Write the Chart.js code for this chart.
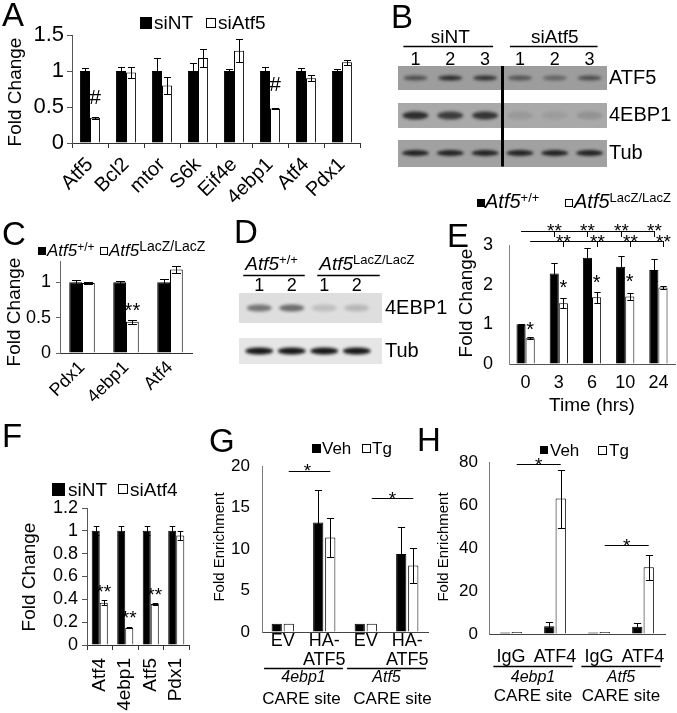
<!DOCTYPE html>
<html>
<head>
<meta charset="utf-8">
<script src="https://cdn.jsdelivr.net/npm/chart.js@4.4.1/dist/chart.umd.min.js"></script>
<style>
  html, body { margin: 0; padding: 0; background: #fff; }
  #page { position: relative; width: 677px; height: 713px; overflow: hidden; background: #fff; }
  #page canvas { position: absolute; left: 0; top: 0; }
</style>
</head>
<body>
<div id="page">
  <canvas id="panelA" width="677" height="713"></canvas>
  <canvas id="panelB" width="677" height="713"></canvas>
  <canvas id="panelC" width="677" height="713"></canvas>
  <canvas id="panelD" width="677" height="713"></canvas>
  <canvas id="panelE" width="677" height="713"></canvas>
  <canvas id="panelF" width="677" height="713"></canvas>
  <canvas id="panelG" width="677" height="713"></canvas>
  <canvas id="panelH" width="677" height="713"></canvas>
</div>
<script>
// ---------- Data ----------
// A: knockdown of Atf5
const genesA = ['Atf5', 'Bcl2', 'mtor', 'S6k', 'Eif4e', '4ebp1', 'Atf4', 'Pdx1'];
const siNT_A = [1, 1, 1, 1, 1, 1, 1, 1];
const siNT_A_err = [0.04, 0.05, 0.18, 0.11, 0.03, 0.05, 0.04, 0.03];
const siAtf5_A = [0.35, 0.98, 0.80, 1.18, 1.28, 0.48, 0.90, 1.12];
const siAtf5_A_err = [0.01, 0.08, 0.12, 0.12, 0.16, 0.01, 0.04, 0.03];
const yTicksA = [0, 0.5, 1, 1.5];

// B: western blot, band strength 0..1
const lanesB = ['1', '2', '3', '1', '2', '3'];
const proteinsB = ['ATF5', '4EBP1', 'Tub'];
const bandsB_ATF5 = [0.55, 0.8, 0.75, 0.5, 0.4, 0.55];
const bandsB_4EBP1 = [0.8, 0.7, 0.75, 0.1, 0.08, 0.14];
const bandsB_Tub = [0.85, 0.85, 0.85, 0.85, 0.85, 0.85];

// C: Atf5 knockout islets
const genesC = ['Pdx1', '4ebp1', 'Atf4'];
const wtC = [1, 1, 1];
const wtC_err = [0.03, 0.02, 0.05];
const lacZC = [0.99, 0.44, 1.18];
const lacZC_err = [0.01, 0.03, 0.05];
const yTicksC = [0, 0.5, 1];

// D: western blot
const lanesD = ['1', '2', '1', '2'];
const proteinsD = ['4EBP1', 'Tub'];
const bandsD_4EBP1 = [0.5, 0.55, 0.15, 0.18];
const bandsD_Tub = [0.95, 0.95, 0.95, 0.95];

// E: time course
const timesE = ['0', '3', '6', '10', '24'];
const wtE = [1.0, 2.28, 2.68, 2.45, 2.37];
const wtE_err = [0.02, 0.27, 0.25, 0.27, 0.27];
const lacZE = [0.65, 1.53, 1.68, 1.70, 1.93];
const lacZE_err = [0.02, 0.13, 0.14, 0.09, 0.03];
const yTicksE = [0, 1, 2, 3];

// F: knockdown of Atf4
const genesF = ['Atf4', '4ebp1', 'Atf5', 'Pdx1'];
const siNT_F = [1, 1, 1, 1];
const siNT_F_err = [0.04, 0.04, 0.04, 0.04];
const siAtf4_F = [0.37, 0.15, 0.36, 0.96];
const siAtf4_F_err = [0.02, 0.005, 0.01, 0.04];
const yTicksF = [0, 0.2, 0.4, 0.6, 0.8, 1, 1.2];

// G: ChIP HA-ATF5
const groupsG = ['EV', ['HA-', 'ATF5'], 'EV', ['HA-', 'ATF5']];
const vehG = [1, 13.2, 1, 9.4];
const vehG_err = [0, 3.85, 0, 3.2];
const tgG = [1, 11.4, 1, 8.0];
const tgG_err = [0, 2.35, 0, 2.15];
const yTicksG = [0, 5, 10, 15, 20];
const sitesG = ['4ebp1', 'Atf5'];

// H: ChIP ATF4
const groupsH = ['IgG', 'ATF4', 'IgG', 'ATF4'];
const vehH = [0.7, 3.6, 0.7, 3.4];
const vehH_err = [0, 1.8, 0, 1.7];
const tgH = [0.9, 63, 0.9, 31];
const tgH_err = [0, 13.5, 0, 5.8];
const yTicksH = [0, 20, 40, 60, 80];
const sitesH = ['4ebp1', 'Atf5'];

// ---------- Helpers ----------
const FONT = "'Liberation Sans', Arial, Helvetica, sans-serif";
const W = 677, H = 713;
const BLACK = '#000', WHITE = '#fff';

function font(size, italic) {
  return (italic ? 'italic ' : '') + size + 'px ' + FONT;
}

// text made of parts (italic / superscript pieces)
function drawText(ctx, item) {
  const parts = item.parts || [{ t: item.t, italic: item.italic }];
  const size = item.size || 18;
  ctx.save();
  ctx.fillStyle = '#000';
  ctx.textBaseline = item.base || 'alphabetic';
  ctx.textAlign = 'left';
  ctx.translate(item.x, item.y);
  if (item.rot) ctx.rotate(item.rot);
  let total = 0;
  parts.forEach(p => { ctx.font = font(p.size || size, p.italic); total += ctx.measureText(p.t).width; });
  let x = item.align === 'center' ? -total / 2 : (item.align === 'right' ? -total : 0);
  parts.forEach(p => {
    ctx.font = font(p.size || size, p.italic);
    ctx.fillText(p.t, x, -(p.rise || 0));
    x += ctx.measureText(p.t).width;
  });
  ctx.restore();
}

function hline(ctx, x1, x2, y, w) {
  ctx.beginPath();
  ctx.lineWidth = w || 1;
  ctx.strokeStyle = '#000';
  ctx.moveTo(x1, Math.round(y) + 0.5);
  ctx.lineTo(x2, Math.round(y) + 0.5);
  ctx.stroke();
}

// glyph centre above the baseline, as part of font size
function glyphMid(s) { return s.indexOf('*') >= 0 ? 0.57 : 0.36; }

// axis boxes reach the canvas edge, so tick labels are not clipped;
// the plot area is then set by the box sizes plus the layout padding
function fixBox(size) {
  return s => {
    if (s.isHorizontal()) s.height = size; else s.width = size;
    s.paddingLeft = s.paddingRight = s.paddingTop = s.paddingBottom = 0;
  };
}

// ---------- Plugin: error bars, marks, brackets, legend, texts ----------
function decoPlugin(d) {
  return {
    id: 'deco',
    afterDatasetsDraw(chart) {
      const ctx = chart.ctx, ys = chart.scales.y;
      chart.data.datasets.forEach((ds, di) => {
        if (!ds.errors) return;
        chart.getDatasetMeta(di).data.forEach((bar, i) => {
          const e = ds.errors[i];
          if (!e) return;
          const x = Math.round(bar.x) + 0.5;
          const top = Math.round(ys.getPixelForValue(ds.data[i] + e)) + 0.5;
          const bot = Math.round(ys.getPixelForValue(ds.data[i] - e)) + 0.5;
          const cap = bar.width * 0.35;
          ctx.save();
          ctx.strokeStyle = '#000';
          ctx.lineWidth = 1;
          ctx.beginPath();
          ctx.moveTo(x, top); ctx.lineTo(x, bot);
          ctx.moveTo(x - cap, top); ctx.lineTo(x + cap, top);
          ctx.moveTo(x - cap, bot); ctx.lineTo(x + cap, bot);
          ctx.stroke();
          ctx.restore();
        });
      });
    },
    afterDraw(chart) {
      const ctx = chart.ctx, xs = chart.scales.x, ys = chart.scales.y;
      const barX = (ds, i) => chart.getDatasetMeta(ds).data[i].x;

      (d.marks || []).forEach(m => {
        const size = m.size || 20;
        drawText(ctx, { t: m.t, size, align: 'center',
          x: barX(m.ds, m.i) + (m.dx || 0),
          y: ys.getPixelForValue(m.v) + glyphMid(m.t) * size });
      });

      (d.brackets || []).forEach(b => {
        const y = ys.getPixelForValue(b.v);
        const size = b.size || 20;
        hline(ctx, barX(b.ds, b.from), barX(b.ds, b.to), y);
        if (b.drops) {
          b.drops.forEach(i => {
            const x = Math.round(barX(b.ds, i)) + 0.5;
            ctx.beginPath();
            ctx.moveTo(x, Math.round(y)); ctx.lineTo(x, Math.round(y) + 6);
            ctx.stroke();
            drawText(ctx, { t: b.t, size, align: 'center', x,
              y: ys.getPixelForValue(b.tv) + glyphMid(b.t) * size });
          });
        } else {
          const x = (barX(b.ds, b.from) + barX(b.ds, b.to)) / 2 + (b.dx || 0);
          drawText(ctx, { t: b.t, size, align: 'center', x,
            y: ys.getPixelForValue(b.tv) + glyphMid(b.t) * size });
        }
      });

      (d.groups || []).forEach(g => {
        const cat = xs.getPixelForValue(1) - xs.getPixelForValue(0);
        const x1 = xs.getPixelForValue(g.from) - g.ext * cat;
        const x2 = xs.getPixelForValue(g.to) + g.ext * cat;
        const mid = (xs.getPixelForValue(g.from) + xs.getPixelForValue(g.to)) / 2;
        hline(ctx, x1, x2, d.groupLine, 1.5);
        drawText(ctx, { t: g.site, italic: true, size: d.siteSize, align: 'center', x: mid, y: d.siteY });
        drawText(ctx, { t: 'CARE site', size: d.careSize, align: 'center', x: mid + (g.careDx || 0), y: d.careY });
      });

      (d.boxes || []).forEach(b => {
        ctx.save();
        if (b.fill) {
          ctx.fillStyle = '#000';
          ctx.fillRect(b.x, b.y, b.s, b.s);
        } else {
          ctx.fillStyle = '#fff';
          ctx.fillRect(b.x, b.y, b.s, b.s);
          ctx.strokeStyle = '#000';
          ctx.lineWidth = 1;
          ctx.strokeRect(b.x + 0.5, b.y + 0.5, b.s - 1, b.s - 1);
        }
        ctx.restore();
      });

      (d.texts || []).forEach(t => drawText(ctx, t));
    }
  };
}

function barPanel(id, p) {
  const a = p.area;
  return new Chart(document.getElementById(id), {
    type: 'bar',
    data: {
      labels: p.labels,
      datasets: p.series.map(s => ({
        label: s.label,
        data: s.data,
        errors: s.err,
        backgroundColor: s.color,
        borderColor: '#000',
        borderWidth: 1,
        barPercentage: p.barPct,
        categoryPercentage: p.catPct
      }))
    },
    options: {
      responsive: false,
      animation: false,
      devicePixelRatio: 1,
      events: [],
      layout: { padding: { left: 0, top: a.t, right: W - a.r, bottom: 0 } },
      plugins: { legend: { display: false }, tooltip: { enabled: false } },
      scales: {
        x: {
          afterFit: fixBox(H - a.b),
          border: { color: p.xAxisColor || '#333', width: 1 },
          grid: { drawOnChartArea: false, drawTicks: !!p.xTick, tickLength: p.xTick || 0, color: '#333', offset: true },
          ticks: {
            color: '#000', autoSkip: false, padding: p.xPad,
            font: { family: FONT, size: p.xFont, lineHeight: p.xLine || 1.2 },
            minRotation: p.xRot || 0, maxRotation: p.xRot || 0
          }
        },
        y: {
          min: 0, max: p.yMax,
          afterFit: fixBox(a.l),
          afterBuildTicks: s => { s.ticks = p.yTicks.map(v => ({ value: v })); },
          border: { color: p.yAxisColor || '#666', width: 1 },
          grid: { drawOnChartArea: false, drawTicks: !!p.yTick, tickLength: p.yTick || 0, color: p.yAxisColor || '#666' },
          ticks: { color: '#000', autoSkip: false, padding: p.yPad, font: { family: FONT, size: p.yFont }, callback: v => String(v) }
        }
      }
    },
    plugins: [decoPlugin(p.deco)]
  });
}

// ---------- Blots ----------
function makeBand(w, h, strength) {
  const c = document.createElement('canvas');
  c.width = w + 10;
  c.height = h + 10;
  const g = c.getContext('2d');
  g.filter = 'blur(1.6px)';
  g.fillStyle = 'rgba(12,12,12,' + strength + ')';
  g.beginPath();
  g.ellipse(c.width / 2, c.height / 2, w / 2, h / 2, 0, 0, Math.PI * 2);
  g.fill();
  return c;
}

function blotPlugin(p) {
  return {
    id: 'blot',
    beforeDatasetsDraw(chart) {
      const ctx = chart.ctx, xs = chart.scales.x, ys = chart.scales.y;
      const left = xs.getPixelForValue(-0.5) - p.stripExt[0];
      const right = xs.getPixelForValue(p.lanes.length - 0.5) + p.stripExt[1];
      p.rows.forEach((row, r) => {
        const y = ys.getPixelForValue(r);
        ctx.fillStyle = p.stripColor[r];
        ctx.fillRect(left, Math.round(y - p.stripH[r] / 2), right - left, p.stripH[r]);
      });
    },
    afterDatasetsDraw(chart) {
      const ctx = chart.ctx, xs = chart.scales.x, ys = chart.scales.y;
      if (p.divider !== undefined) {
        const x = (xs.getPixelForValue(p.divider) + xs.getPixelForValue(p.divider + 1)) / 2;
        const last = p.rows.length - 1;
        ctx.save();
        ctx.fillStyle = '#000';
        ctx.fillRect(x - 1.5, ys.getPixelForValue(0) - p.stripH[0] / 2,
          3, ys.getPixelForValue(last) + p.stripH[last] / 2 - ys.getPixelForValue(0) + p.stripH[0] / 2);
        ctx.restore();
      }
      p.headers.forEach(h => {
        const x1 = xs.getPixelForValue(h.from) - h.ext[0];
        const x2 = xs.getPixelForValue(h.to) + h.ext[1];
        hline(chart.ctx, x1, x2, p.headLine, 1.5);
        if (h.align === 'left') {
          drawText(ctx, { parts: h.parts, size: p.headSize, x: x1 + 2, y: p.headY });
        } else {
          drawText(ctx, { parts: h.parts, size: p.headSize, align: 'center', x: (xs.getPixelForValue(h.from) + xs.getPixelForValue(h.to)) / 2, y: p.headY });
        }
      });
      (p.texts || []).forEach(t => drawText(ctx, t));
    }
  };
}

function blotPanel(id, p) {
  const a = p.area;
  const pts = [], styles = [];
  p.rows.forEach((row, r) => p.bands[r].forEach((v, j) => {
    pts.push({ x: j, y: r });
    styles.push(makeBand(p.bandW[r], p.bandH[r], v));
  }));
  return new Chart(document.getElementById(id), {
    type: 'scatter',
    data: { datasets: [{ data: pts, pointStyle: c => styles[c.dataIndex], pointRadius: 10, clip: false }] },
    options: {
      responsive: false,
      animation: false,
      devicePixelRatio: 1,
      events: [],
      layout: { padding: { left: a.l, top: 0, right: 0, bottom: H - a.b } },
      plugins: { legend: { display: false }, tooltip: { enabled: false } },
      scales: {
        x: {
          type: 'linear', position: 'top', min: -0.5, max: p.lanes.length - 0.5,
          afterFit: fixBox(a.t),
          afterBuildTicks: s => { s.ticks = p.lanes.map((_, i) => ({ value: i })); },
          grid: { display: false, drawTicks: false }, border: { display: false },
          ticks: { color: '#000', padding: p.lanePad, maxRotation: 0, autoSkip: false,
            font: { family: FONT, size: 18 }, callback: v => p.lanes[v] }
        },
        y: {
          type: 'linear', position: 'right', reverse: true, min: 0, max: p.rows.length - 1,
          afterFit: fixBox(W - a.r),
          afterBuildTicks: s => { s.ticks = p.rows.map((_, i) => ({ value: i })); },
          grid: { display: false, drawTicks: false }, border: { display: false },
          ticks: { color: '#000', padding: p.rowPad, autoSkip: false, font: { family: FONT, size: 20 }, callback: v => p.rows[v] }
        }
      }
    },
    plugins: [blotPlugin(p)]
  });
}

const ROT = -Math.PI / 2;

// ---------- A ----------
barPanel('panelA', {
  area: { l: 72, t: 35, r: 360, b: 143 },
  labels: genesA,
  series: [
    { label: 'siNT', data: siNT_A, err: siNT_A_err, color: BLACK },
    { label: 'siAtf5', data: siAtf5_A, err: siAtf5_A_err, color: WHITE }
  ],
  barPct: 1, catPct: 0.56,
  yMax: 1.5, yTicks: yTicksA, yFont: 22, yPad: 3, yTick: 5, yAxisColor: '#555',
  xFont: 20, xPad: 5, xTick: 5, xRot: 45,
  deco: {
    marks: [
      { ds: 1, i: 0, v: 0.64, t: '#', size: 21 },
      { ds: 1, i: 5, v: 0.83, t: '#', size: 21 }
    ],
    boxes: [{ x: 140, y: 17, s: 12, fill: true }, { x: 206, y: 18, s: 10, fill: false }],
    texts: [
      { t: 'A', x: 2, y: 26, size: 33 },
      { t: 'siNT', x: 154, y: 29, size: 19 },
      { t: 'siAtf5', x: 218, y: 29, size: 19 },
      { t: 'Fold Change', x: 16, y: 92, size: 19, rot: ROT, align: 'center', base: 'middle' }
    ]
  }
});

// ---------- B ----------
blotPanel('panelB', {
  area: { l: 398, t: 78, r: 607, b: 153 },
  lanes: lanesB, rows: proteinsB,
  bands: [bandsB_ATF5, bandsB_4EBP1, bandsB_Tub],
  bandW: [24, 26, 27], bandH: [5, 8, 6],
  stripColor: ['#9d9d9d', '#a9a9a9', '#a1a1a1'], stripH: [24, 25, 27], stripExt: [0, 0],
  lanePad: 7, rowPad: 2,
  divider: 2,
  headY: 43, headLine: 46, headSize: 19,
  headers: [
    { from: 0, to: 2, ext: [12, 8], parts: [{ t: 'siNT' }] },
    { from: 3, to: 5, ext: [10, 8], parts: [{ t: 'siAtf5' }] }
  ],
  texts: [{ t: 'B', x: 391, y: 28, size: 33 }]
});

// ---------- C ----------
barPanel('panelC', {
  area: { l: 60, t: 261, r: 192, b: 353 },
  labels: genesC,
  series: [
    { label: 'Atf5+/+', data: wtC, err: wtC_err, color: BLACK },
    { label: 'Atf5LacZ/LacZ', data: lacZC, err: lacZC_err, color: WHITE }
  ],
  barPct: 1, catPct: 0.58,
  yMax: 1.3, yTicks: yTicksC, yFont: 18, yPad: 5, yTick: 4, yAxisColor: '#666',
  xFont: 18, xPad: 4, xTick: 0, xRot: 45,
  deco: {
    marks: [{ ds: 1, i: 1, v: 0.67, t: '**', size: 20 }],
    boxes: [{ x: 38, y: 247, s: 8, fill: true }, { x: 100, y: 247, s: 8, fill: false }],
    texts: [
      { t: 'C', x: 2, y: 245, size: 33 },
      { parts: [{ t: 'Atf5', italic: true }, { t: '+/+', size: 12, rise: 5 }], x: 47, y: 256, size: 17 },
      { parts: [{ t: 'Atf5', italic: true }, { t: 'LacZ/LacZ', size: 14, rise: 5 }], x: 109, y: 256, size: 17 },
      { t: 'Fold Change', x: 15, y: 312, size: 19, rot: ROT, align: 'center', base: 'middle' }
    ]
  }
});

// ---------- D ----------
blotPanel('panelD', {
  area: { l: 243, t: 308, r: 373, b: 351 },
  lanes: lanesD, rows: proteinsD,
  bands: [bandsD_4EBP1, bandsD_Tub],
  bandW: [25, 28], bandH: [7, 7],
  stripColor: ['#dedede', '#e6e6e6'], stripH: [30, 26], stripExt: [4, 9],
  lanePad: 11, rowPad: 12,
  headY: 270, headLine: 275, headSize: 19,
  headers: [
    { from: 0, to: 1, ext: [16, 13], align: 'left', parts: [{ t: 'Atf5', italic: true }, { t: '+/+', size: 13, rise: 6 }] },
    { from: 2, to: 3, ext: [7, 23], align: 'left', parts: [{ t: 'Atf5', italic: true }, { t: 'LacZ/LacZ', size: 13, rise: 6 }] }
  ],
  texts: [{ t: 'D', x: 234, y: 243, size: 33 }]
});

// ---------- E ----------
barPanel('panelE', {
  area: { l: 509, t: 245, r: 675, b: 364 },
  labels: timesE,
  series: [
    { label: 'Atf5+/+', data: wtE, err: wtE_err, color: BLACK },
    { label: 'Atf5LacZ/LacZ', data: lacZE, err: lacZE_err, color: WHITE }
  ],
  barPct: 1, catPct: 0.55,
  yMax: 3, yTicks: yTicksE, yFont: 18, yPad: 16, yTick: 0, yAxisColor: '#888', xAxisColor: '#555',
  xFont: 18, xPad: 8, xTick: 0, xRot: 0,
  deco: {
    marks: [
      { ds: 1, i: 0, v: 1.0, t: '*', size: 20 },
      { ds: 1, i: 1, v: 2.04, t: '*', size: 20 },
      { ds: 1, i: 2, v: 2.17, t: '*', size: 20 },
      { ds: 1, i: 3, v: 2.2, t: '*', size: 20 }
    ],
    brackets: [
      { ds: 0, from: 0, to: 4, v: 3.35, drops: [1, 2, 3, 4], t: '**', tv: 3.48, size: 19 },
      { ds: 1, from: 0, to: 4, v: 3.1, drops: [1, 2, 3, 4], t: '**', tv: 3.2, size: 19 }
    ],
    boxes: [{ x: 477, y: 199, s: 8, fill: true }, { x: 565, y: 199, s: 8, fill: false }],
    texts: [
      { t: 'E', x: 447, y: 247, size: 33 },
      { parts: [{ t: 'Atf5', italic: true }, { t: '+/+', size: 13, rise: 6 }], x: 485, y: 208, size: 20 },
      { parts: [{ t: 'Atf5', italic: true }, { t: 'LacZ/LacZ', size: 13, rise: 6 }], x: 574, y: 208, size: 20 },
      { t: 'Fold Change', x: 467, y: 303, size: 19, rot: ROT, align: 'center', base: 'middle' },
      { t: 'Time (hrs)', x: 592, y: 411, size: 19, align: 'center' }
    ]
  }
});

// ---------- F ----------
barPanel('panelF', {
  area: { l: 87, t: 508, r: 189, b: 645 },
  labels: genesF,
  series: [
    { label: 'siNT', data: siNT_F, err: siNT_F_err, color: BLACK },
    { label: 'siAtf4', data: siAtf4_F, err: siAtf4_F_err, color: WHITE }
  ],
  barPct: 1, catPct: 0.63,
  yMax: 1.2, yTicks: yTicksF, yFont: 18, yPad: 4, yTick: 5, yAxisColor: '#555',
  xFont: 19, xPad: 8, xTick: 5, xRot: 90,
  deco: {
    marks: [
      { ds: 1, i: 0, v: 0.51, t: '**', size: 19 },
      { ds: 1, i: 1, v: 0.28, t: '**', size: 19 },
      { ds: 1, i: 2, v: 0.48, t: '**', size: 19 }
    ],
    boxes: [{ x: 52, y: 483, s: 13, fill: true }, { x: 118, y: 484, s: 10, fill: false }],
    texts: [
      { t: 'F', x: 2, y: 447, size: 33 },
      { t: 'siNT', x: 68, y: 496, size: 19 },
      { t: 'siAtf4', x: 130, y: 496, size: 19 },
      { t: 'Fold Change', x: 30, y: 577, size: 19, rot: ROT, align: 'center', base: 'middle' }
    ]
  }
});

// ---------- G ----------
barPanel('panelG', {
  area: { l: 262, t: 466, r: 428, b: 632 },
  labels: groupsG,
  series: [
    { label: 'Veh', data: vehG, err: vehG_err, color: BLACK },
    { label: 'Tg', data: tgG, err: tgG_err, color: WHITE }
  ],
  barPct: 0.85, catPct: 0.58,
  yMax: 20, yTicks: yTicksG, yFont: 17, yPad: 12, yTick: 0, yAxisColor: '#777', xAxisColor: '#444',
  xFont: 18, xPad: 0, xLine: 1.05, xTick: 0, xRot: 0,
  deco: {
    brackets: [
      { ds: 1, from: 0, to: 1, v: 19.4, t: '*', tv: 20.0, size: 19, dx: -2 },
      { ds: 1, from: 2, to: 3, v: 16.1, t: '*', tv: 16.6, size: 19 }
    ],
    groupLine: 668, siteY: 682, careY: 704, siteSize: 16, careSize: 17,
    groups: [
      { from: 0, to: 1, ext: 0.45, site: sitesG[0], careDx: -2 },
      { from: 2, to: 3, ext: 0.45, site: sitesG[1], careDx: 6 }
    ],
    boxes: [{ x: 312, y: 444, s: 9, fill: true }, { x: 362, y: 444, s: 9, fill: false }],
    texts: [
      { t: 'G', x: 209, y: 452, size: 33 },
      { t: 'Veh', x: 322, y: 454, size: 17 },
      { t: 'Tg', x: 372, y: 454, size: 17 },
      { t: 'Fold Enrichment', x: 220, y: 547, size: 15, rot: ROT, align: 'center', base: 'middle' }
    ]
  }
});

// ---------- H ----------
barPanel('panelH', {
  area: { l: 489, t: 462, r: 665, b: 634 },
  labels: groupsH,
  series: [
    { label: 'Veh', data: vehH, err: vehH_err, color: BLACK },
    { label: 'Tg', data: tgH, err: tgH_err, color: WHITE }
  ],
  barPct: 0.9, catPct: 0.52,
  yMax: 80, yTicks: yTicksH, yFont: 17, yPad: 11, yTick: 0, yAxisColor: '#777', xAxisColor: '#444',
  xFont: 18, xPad: 12, xTick: 0, xRot: 0,
  deco: {
    brackets: [
      { ds: 1, from: 0, to: 1, v: 79, t: '*', tv: 81, size: 19 },
      { ds: 1, from: 2, to: 3, v: 41.4, t: '*', tv: 43, size: 19 }
    ],
    groupLine: 666, siteY: 682, careY: 701, siteSize: 16, careSize: 17,
    groups: [
      { from: 0, to: 1, ext: 0.4, site: sitesH[0] },
      { from: 2, to: 3, ext: 0.4, site: sitesH[1] }
    ],
    boxes: [{ x: 540, y: 446, s: 8, fill: true }, { x: 598, y: 446, s: 9, fill: false }],
    texts: [
      { t: 'H', x: 417, y: 451, size: 33 },
      { t: 'Veh', x: 550, y: 456, size: 17 },
      { t: 'Tg', x: 609, y: 456, size: 17 },
      { t: 'Fold Enrichment', x: 444, y: 547, size: 15, rot: ROT, align: 'center', base: 'middle' }
    ]
  }
});
</script>
</body>
</html>
